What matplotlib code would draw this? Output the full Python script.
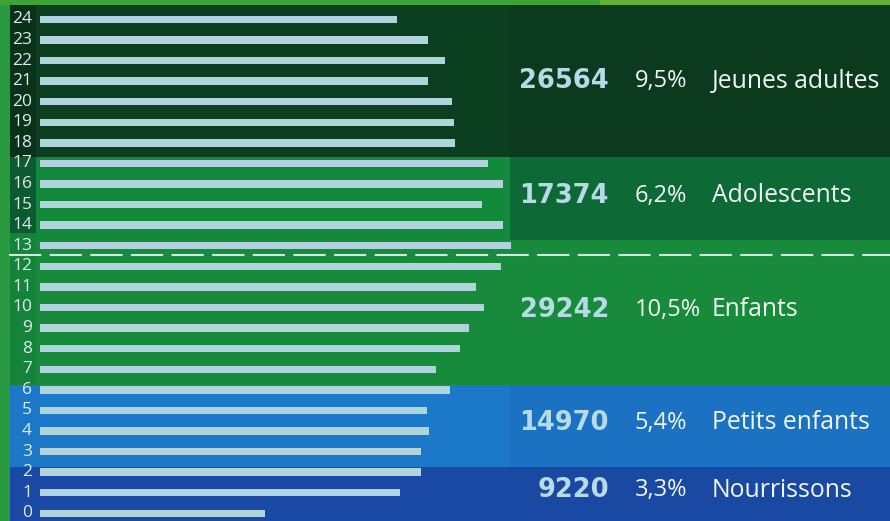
import matplotlib.pyplot as plt
from matplotlib.patches import Rectangle

# Effectif relatif par âge (0 à 24 ans)
ages = list(range(25))
effectifs = [225, 360, 381, 381, 389, 387, 410, 396, 420, 429,
             444, 436, 461, 471, 463, 442, 463, 448,
             415, 414, 412, 388, 405, 388, 357]

# Tranches d'âge : (nom, âge min, âge max, total, part)
tranches = ["Nourrissons", "Petits enfants", "Enfants", "Adolescents", "Jeunes adultes"]
age_min = [0, 3, 7, 13, 18]
age_max = [2, 6, 12, 17, 24]
totaux = ["9220", "14970", "29242", "17374", "26564"]
parts = ["3,3%", "5,4%", "10,5%", "6,2%", "9,5%"]

# couleurs de fond : (colonne des âges, zone des barres, zone du texte)
fonds = [("#1a4aa6", "#1a4aa6", "#1a49a4"),
         ("#1c77c6", "#1c78c8", "#1b72c2"),
         ("#15833a", "#178a3c", "#178a3c"),
         ("#0c5a30", "#138a3b", "#0d6a37"),
         ("#0a3119", "#0c3f1f", "#0b3a1e")]
bornes = [-0.40, 2.25, 6.23, 13.28, 17.31, 24.70]

fig = plt.figure(figsize=(8.9, 5.21), dpi=100)
ax = fig.add_axes([0, 0, 1, 1])
ax.set_xlim(-40, 850)
ax.set_ylim(-0.374, 24.94)
ax.axis("off")

# bandes de couleur par tranche
x_col, x_bar, x_txt, x_fin = -30, -4, 470, 850
for i, (c_col, c_bar, c_txt) in enumerate(fonds):
    y0, y1 = bornes[i], bornes[i + 1]
    # la colonne des âges reste verte sur la ligne 13
    col_top = y1
    if tranches[i] == "Enfants":
        col_top = 13.62
    if tranches[i] == "Adolescents":
        y0_col = 13.62
    else:
        y0_col = y0
    ax.add_patch(Rectangle((x_col, y0_col), x_bar - x_col, col_top - y0_col,
                           facecolor=c_col, edgecolor="none", zorder=0))
    ax.add_patch(Rectangle((x_bar, y0), x_txt - x_bar, y1 - y0,
                           facecolor=c_bar, edgecolor="none", zorder=0))
    ax.add_patch(Rectangle((x_txt, y0), x_fin - x_txt, y1 - y0,
                           facecolor=c_txt, edgecolor="none", zorder=0))

# cadre vert à gauche et en haut
ax.add_patch(Rectangle((-40, -1), 10, 27, facecolor="#2a9a40",
                       edgecolor="none", zorder=1))
ax.add_patch(Rectangle((-40, 24.70), 890, 1, facecolor="#3fa238",
                       edgecolor="none", zorder=1))
ax.add_patch(Rectangle((560, 24.70), 290, 1, facecolor="#64b035",
                       edgecolor="none", zorder=1))

# barres
ax.barh(ages, effectifs, height=0.36, left=0, color="#b0d4dc",
        edgecolor="none", zorder=2)

for a in ages:
    ax.text(-8, a, str(a), ha="right", va="center", fontsize=12.5,
            family="Open Sans", color="#dcecec", zorder=3)

# séparation entre 12 et 13 ans
ax.plot([-31, 850], [12.55, 12.55], color="#d2e8e2", lw=1.5,
        dashes=(15.5, 4), zorder=3)

# chiffres par tranche
pos_y = [1.13, 4.39, 9.88, 15.42, 21.0]
for i in range(len(tranches)):
    y = pos_y[i]
    ax.text(569, y, totaux[i], ha="right", va="center", fontsize=18.5,
            family="DejaVu Sans", weight="bold", color="#b6dbe6", zorder=3)
    ax.text(595, y, parts[i], ha="left", va="center", fontsize=17,
            family="Open Sans", color="#f2f6f2", zorder=3)
    ax.text(672, y, tranches[i], ha="left", va="center", fontsize=17.8,
            family="Open Sans", color="#f2f6f2", zorder=3)

fig.savefig("out.png", dpi=100)
